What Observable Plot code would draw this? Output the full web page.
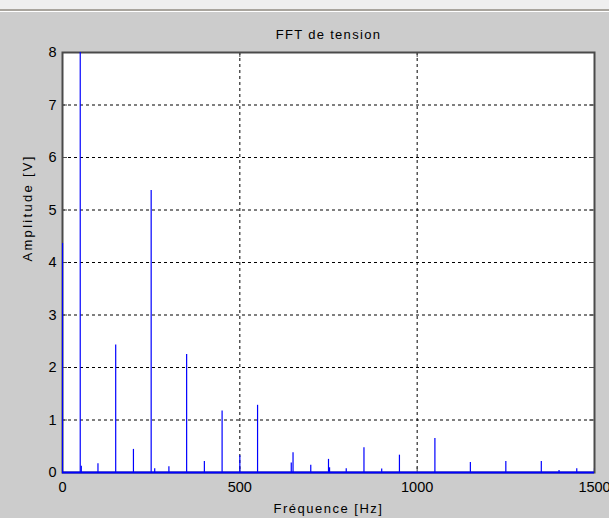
<!DOCTYPE html>
<html>
<head>
<meta charset="utf-8">
<script src="https://cdn.jsdelivr.net/npm/d3@7"></script>
<script src="https://cdn.jsdelivr.net/npm/@observablehq/plot@0.6"></script>
<style>
  html, body { margin: 0; padding: 0; background: #cccccc; overflow: hidden; }
  #band { height: 9px; background: #efefef; border-bottom: 2px solid #a9a59e; }
  #band-light { height: 1px; background: #ffffff; }
  #chart svg { display: block; }
</style>
</head>
<body>
<div id="band"></div>
<div id="band-light"></div>
<div id="chart"></div>
<script>
// Spectrum peaks: frequency (Hz) and amplitude (V)
const freqs = [0, 50, 53, 100, 150, 200, 250, 260, 300, 350, 400, 450, 500, 550,
               645, 650, 700, 750, 753, 800, 850, 900, 950, 1050, 1150, 1250, 1350, 1400, 1450, 1500];
const amps  = [4.36, 8, 0.12, 0.165, 2.43, 0.44, 5.37, 0.07, 0.11, 2.25, 0.21, 1.17, 0.32, 1.28,
               0.18, 0.375, 0.14, 0.25, 0.09, 0.07, 0.47, 0.065, 0.33, 0.65, 0.19, 0.21, 0.21, 0.04, 0.07, 0.07];

const xTicks = [0, 500, 1000, 1500];
const yTicks = [0, 1, 2, 3, 4, 5, 6, 7, 8];

const titleText = "FFT de tension";
const xLabel = "Fréquence [Hz]";
const yLabel = "Amplitude [V]";

const spikes = freqs.map((f, i) => ({f, a: amps[i]}));

const blue = "#0000ff";
const frameColor = "#4a4a4a";
const plain = d => String(d);

const chart = Plot.plot({
  width: 609,
  height: 505,
  marginTop: 40,
  marginBottom: 45,
  marginLeft: 62,
  marginRight: 15,
  style: {background: "#cccccc", fontFamily: "'Liberation Sans', Arial, sans-serif", fontSize: "14px", color: "#000"},
  x: {domain: [0, 1500]},
  y: {domain: [0, 8]},
  marks: [
    Plot.frame({fill: "white", stroke: "none"}),
    Plot.gridX(xTicks.slice(1, -1), {stroke: "#000", strokeOpacity: 1, strokeDasharray: "3,3"}),
    Plot.gridY(yTicks.slice(1, -1), {stroke: "#000", strokeOpacity: 1, strokeDasharray: "3,3"}),
    Plot.frame({stroke: frameColor, strokeWidth: 2}),
    // inward tick marks on all four sides
    Plot.tickX(xTicks, {insetBottom: 415, stroke: frameColor}),
    Plot.tickX(xTicks, {insetTop: 415, stroke: frameColor}),
    Plot.tickY(yTicks, {insetRight: 527, stroke: frameColor}),
    Plot.tickY(yTicks, {insetLeft: 527, stroke: frameColor}),
    Plot.axisX(xTicks, {anchor: "bottom", tickSize: 0, tickPadding: 9, label: null, tickFormat: plain, fontSize: 14.5}),
    Plot.axisY(yTicks, {anchor: "left", tickSize: 0, tickPadding: 6, label: null, tickFormat: plain, fontSize: 14.5}),
    // spectrum
    Plot.ruleX(spikes, {x: "f", y1: 0, y2: "a", stroke: blue, strokeWidth: 1.2, clip: true}),
    Plot.ruleY([0], {stroke: blue, strokeWidth: 2}),
    // title and axis labels
    Plot.text([titleText], {frameAnchor: "top", dy: -17.5, lineAnchor: "middle", fontSize: 13}),
    Plot.text([xLabel], {frameAnchor: "bottom", dy: 36, lineAnchor: "middle", fontSize: 13}),
    Plot.text([yLabel], {frameAnchor: "left", dx: -35, dy: -1, rotate: -90, lineAnchor: "middle", fontSize: 13})
  ]
});

// MATLAB-style widely spaced label lettering
chart.querySelectorAll("text").forEach(t => {
  const s = t.textContent;
  if (s === titleText) t.setAttribute("letter-spacing", "1.3");
  else if (s === xLabel) t.setAttribute("letter-spacing", "1.5");
  else if (s === yLabel) t.setAttribute("letter-spacing", "2.3");
});

document.getElementById("chart").appendChild(chart);
</script>
</body>
</html>
